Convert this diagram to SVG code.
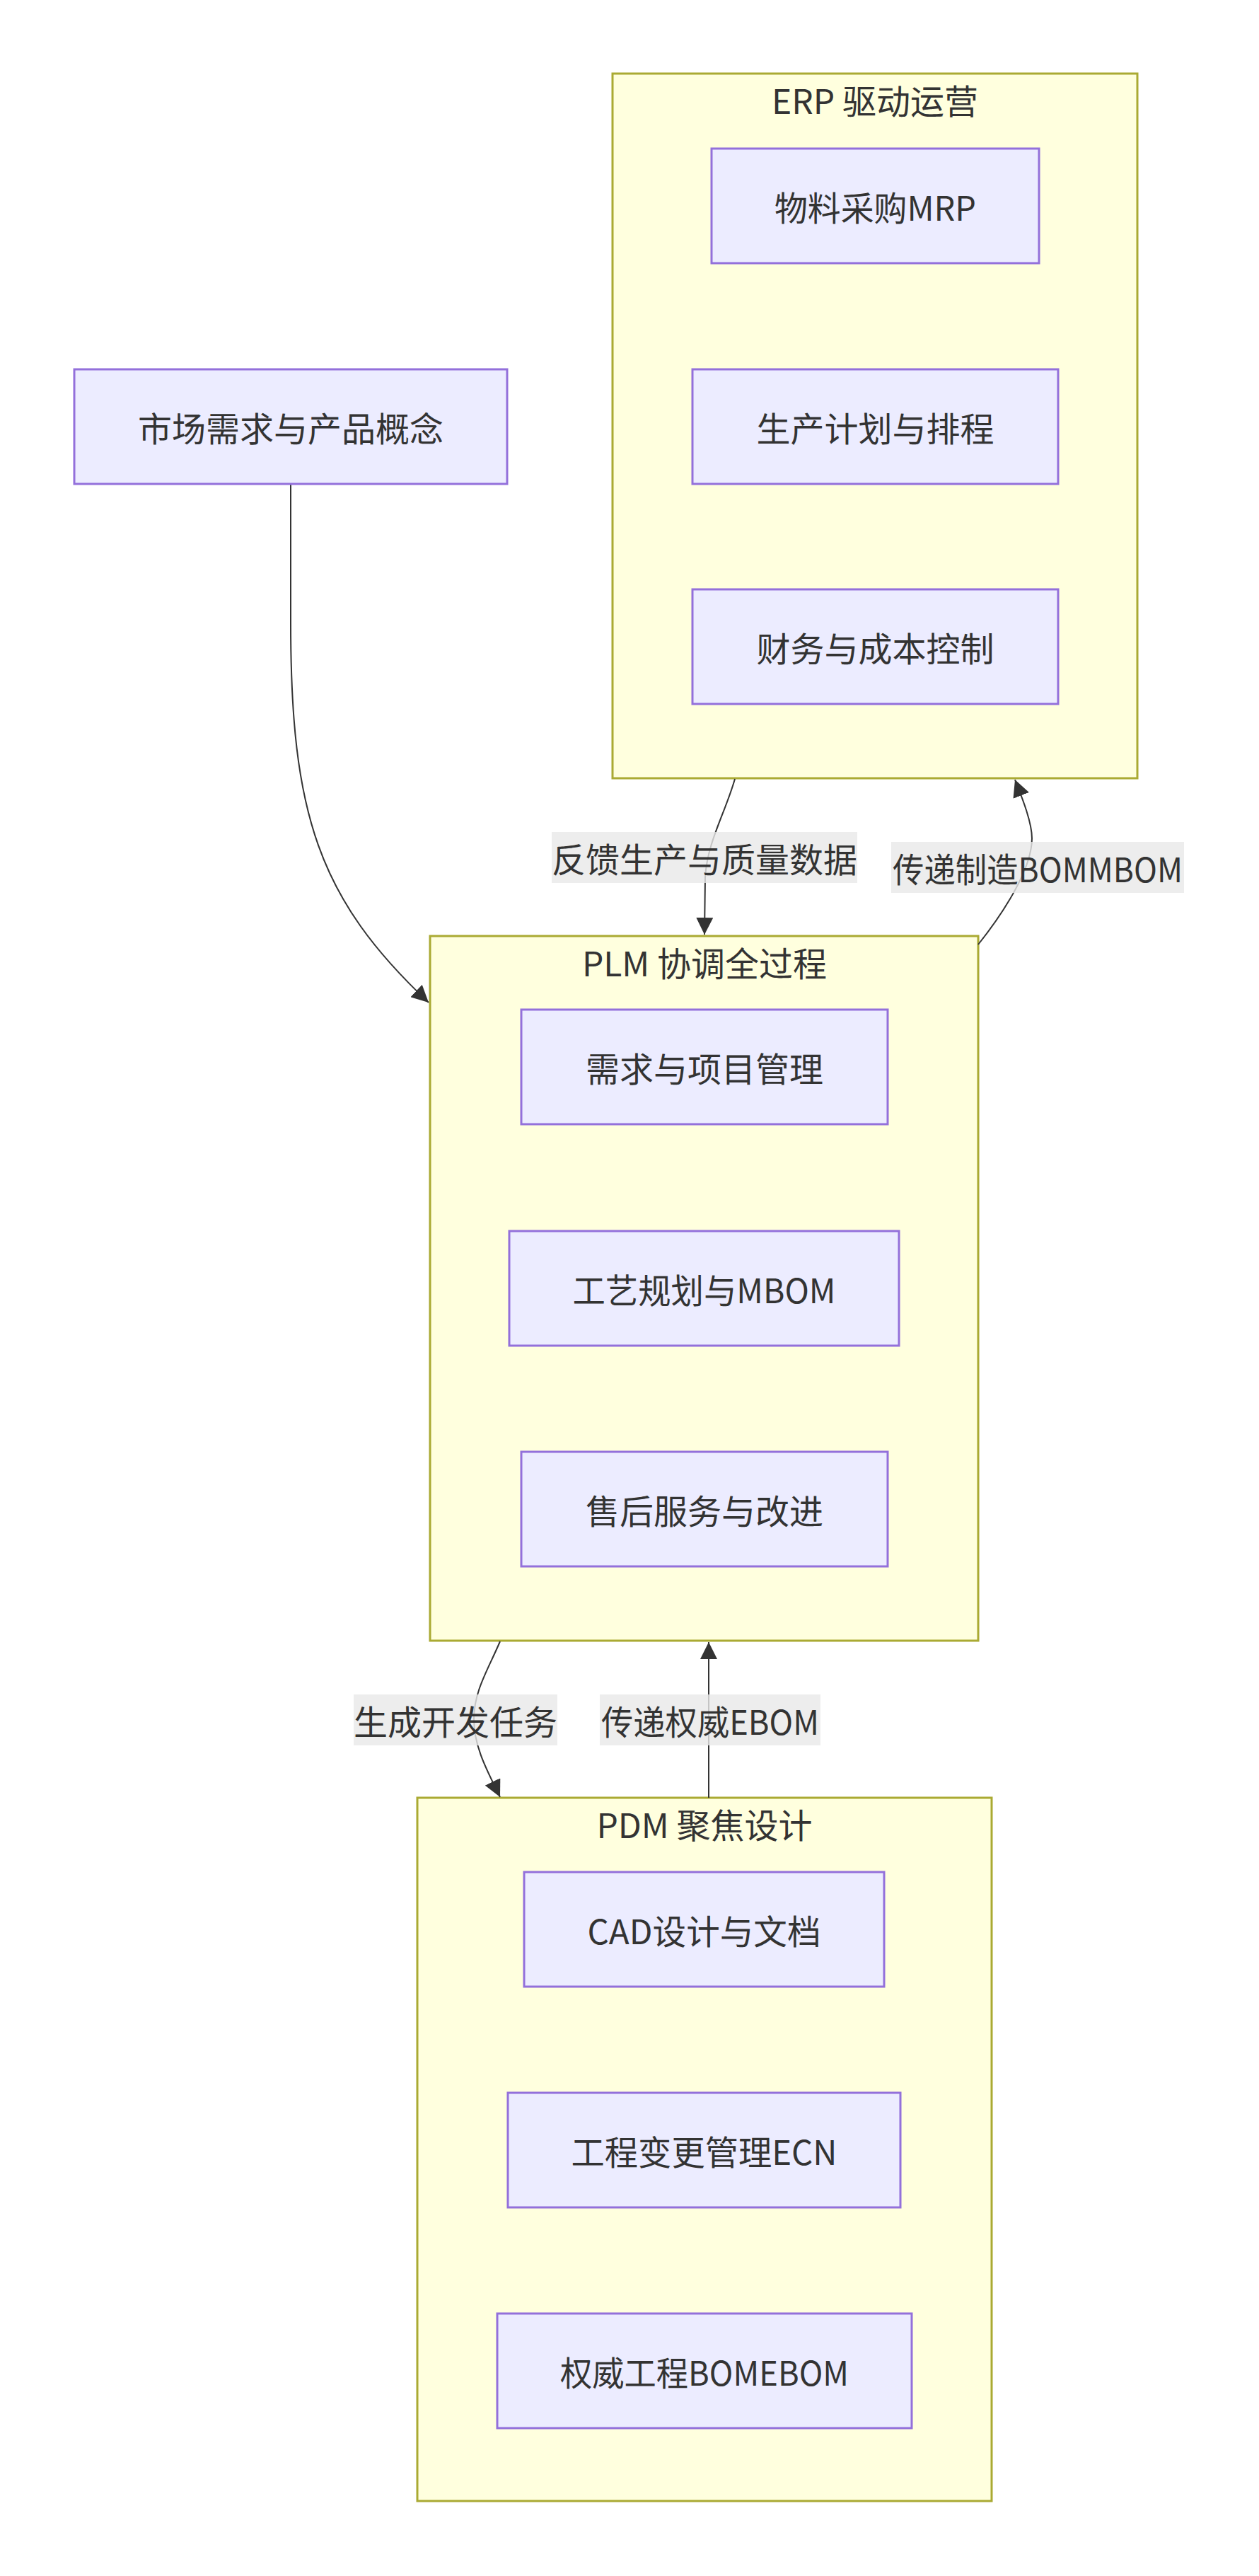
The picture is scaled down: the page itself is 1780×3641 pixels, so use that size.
<svg xmlns="http://www.w3.org/2000/svg" width="1780" height="3641" viewBox="0 0 1780 3641">
<defs>
<style>
.cluster{fill:#ffffde;stroke:#aaaa33;stroke-width:3}
.node{fill:#ECECFF;stroke:#9370DB;stroke-width:3}
.t{font-family:"Noto Sans CJK SC","Noto Sans",sans-serif;font-size:48px;fill:#333333;text-anchor:middle;dominant-baseline:central}
.edge{fill:none;stroke:#333333;stroke-width:2}
.lbl{fill:#e8e8e8;fill-opacity:0.8}
</style>
<marker id="arrow" viewBox="0 0 10 10" refX="10" refY="5" markerUnits="userSpaceOnUse" markerWidth="24" markerHeight="24" orient="auto">
<path d="M0,0 L10,5 L0,10 z" fill="#333333"/>
</marker>
</defs>
<rect width="1780" height="3641" fill="#ffffff"/>
<g id="cluster-ERP">
<rect class="cluster" x="866" y="104" width="742" height="996"/>
<text class="t" x="1237" y="140">ERP 驱动运营</text>
</g>
<g id="cluster-PLM">
<rect class="cluster" x="608" y="1323" width="775" height="996"/>
<text class="t" x="996" y="1359">PLM 协调全过程</text>
</g>
<g id="cluster-PDM">
<rect class="cluster" x="590" y="2541" width="812" height="994"/>
<text class="t" x="996" y="2577">PDM 聚焦设计</text>
</g>
<g id="edges">
<path class="edge" d="M411,684 L411,880 C411,1150 450,1270 606,1417" marker-end="url(#arrow)"/>
<path class="edge" d="M1039,1101 C1025,1150 1000,1190 997,1240 L996,1321" marker-end="url(#arrow)"/>
<path class="edge" d="M1383,1335 C1415,1295 1459,1230 1459,1185 C1459,1160 1442,1120 1435,1102" marker-end="url(#arrow)"/>
<path class="edge" d="M707,2320 C690,2360 670,2390 670,2430 C670,2470 690,2505 707,2540" marker-end="url(#arrow)"/>
<path class="edge" d="M1002,2541 L1002,2321" marker-end="url(#arrow)"/>
</g>
<g id="edge-labels">
<g id="label-feedback"><rect class="lbl" x="780" y="1176" width="432" height="72"/><text class="t" x="996" y="1212">反馈生产与质量数据</text></g>
<g id="label-mbom"><rect class="lbl" x="1260" y="1190" width="414" height="72"/><text class="t" x="1467" y="1226" textLength="410" lengthAdjust="spacingAndGlyphs">传递制造BOMMBOM</text></g>
<g id="label-task"><rect class="lbl" x="500" y="2395" width="288" height="72"/><text class="t" x="644" y="2431">生成开发任务</text></g>
<g id="label-ebom"><rect class="lbl" x="848" y="2395" width="312" height="72"/><text class="t" x="1004" y="2431" textLength="308" lengthAdjust="spacingAndGlyphs">传递权威EBOM</text></g>
</g>
<g id="node-market"><rect class="node" x="105" y="522" width="612" height="162"/><text class="t" x="411" y="603">市场需求与产品概念</text></g>
<g id="node-mrp"><rect class="node" x="1006" y="210" width="463" height="162"/><text class="t" x="1237.5" y="291" textLength="285" lengthAdjust="spacingAndGlyphs">物料采购MRP</text></g>
<g id="node-plan"><rect class="node" x="979" y="522" width="517" height="162"/><text class="t" x="1237.5" y="603">生产计划与排程</text></g>
<g id="node-finance"><rect class="node" x="979" y="833" width="517" height="162"/><text class="t" x="1237.5" y="914">财务与成本控制</text></g>
<g id="node-req"><rect class="node" x="737" y="1427" width="518" height="162"/><text class="t" x="996" y="1508">需求与项目管理</text></g>
<g id="node-process"><rect class="node" x="720" y="1740" width="551" height="162"/><text class="t" x="995.5" y="1821" textLength="372" lengthAdjust="spacingAndGlyphs">工艺规划与MBOM</text></g>
<g id="node-service"><rect class="node" x="737" y="2052" width="518" height="162"/><text class="t" x="996" y="2133">售后服务与改进</text></g>
<g id="node-cad"><rect class="node" x="741" y="2646" width="509" height="162"/><text class="t" x="995.5" y="2727" textLength="330" lengthAdjust="spacingAndGlyphs">CAD设计与文档</text></g>
<g id="node-ecn"><rect class="node" x="718" y="2958" width="555" height="162"/><text class="t" x="995.5" y="3039" textLength="376" lengthAdjust="spacingAndGlyphs">工程变更管理ECN</text></g>
<g id="node-ebom"><rect class="node" x="703" y="3270" width="586" height="162"/><text class="t" x="996" y="3351" textLength="408" lengthAdjust="spacingAndGlyphs">权威工程BOMEBOM</text></g>
</svg>
